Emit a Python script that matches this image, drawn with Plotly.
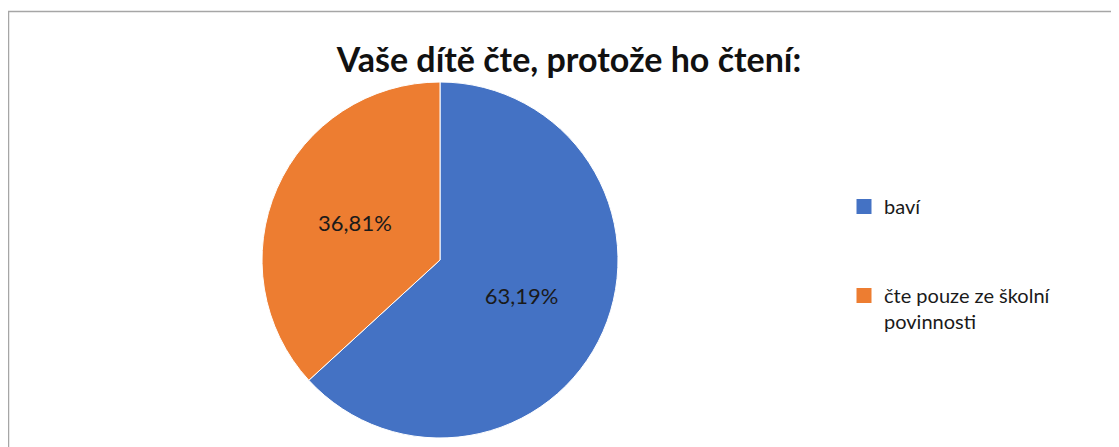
import plotly.graph_objects as go

# the html body has an 8px margin, so the figure starts at page (8, 8)
W, H = 1111, 439

TITLE = "Vaše dítě čte, protože ho čtení:"
LABELS = ["baví", "čte pouze ze školní povinnosti"]
LEGEND_NAMES = ["baví", "čte pouze ze školní<br>povinnosti"]
SHARES = [63.19, 36.81]
COLORS = ["#4472C4", "#ED7D31"]

FONT = "Lato, 'Open Sans', sans-serif"

fig = go.Figure()

fig.add_trace(
    go.Pie(
        labels=LABELS,
        values=SHARES,
        sort=False,
        direction="clockwise",
        rotation=0,
        marker={"colors": COLORS, "line": {"color": "white", "width": 1}},
        texttemplate="%{value:.2f}%",
        textposition="inside",
        insidetextorientation="horizontal",
        textfont={"size": 22, "color": "#1a1a1a", "family": FONT},
        domain={"x": [254 / W, 610 / W], "y": [1 - 430 / H, 1 - 74 / H]},
        showlegend=False,
        hoverinfo="label+percent",
    )
)

# legend entries (pie legend can't be spaced like the original)
for i, (name, color) in enumerate(zip(LEGEND_NAMES, COLORS)):
    fig.add_trace(
        go.Scatter(
            x=[None],
            y=[None],
            mode="markers",
            marker={"symbol": "square", "size": 15, "color": color},
            name=name,
            legendgroup=f"g{i}",
        )
    )

fig.update_layout(
    width=W,
    height=H,
    separators=", ",
    paper_bgcolor="white",
    plot_bgcolor="white",
    margin={"l": 0, "r": 0, "t": 0, "b": 0},
    font={"family": FONT, "color": "#1a1a1a", "size": 20},
    title={
        "text": f"<b>{TITLE}</b>",
        "x": 561 / W,
        "xanchor": "center",
        "y": 1 - 52 / H,
        "yanchor": "middle",
        "font": {"size": 34, "color": "#111", "family": FONT},
    },
    xaxis={"visible": False},
    yaxis={"visible": False},
    legend={
        "x": 836 / W,
        "xanchor": "left",
        "y": 1 - 179 / H,
        "yanchor": "top",
        "valign": "top",
        "tracegroupgap": 60,
        "font": {"size": 20, "color": "#1a1a1a", "family": FONT},
        "bgcolor": "rgba(0,0,0,0)",
    },
    shapes=[
        {
            "type": "rect",
            "xref": "paper",
            "yref": "paper",
            "x0": 0.5 / W,
            "x1": 1.05,
            "y0": -0.05,
            "y1": 1 - 3.5 / H,
            "line": {"color": "#a6a6a6", "width": 1.5},
            "fillcolor": "rgba(0,0,0,0)",
            "layer": "below",
        }
    ],
)

fig.write_html("out.html")
